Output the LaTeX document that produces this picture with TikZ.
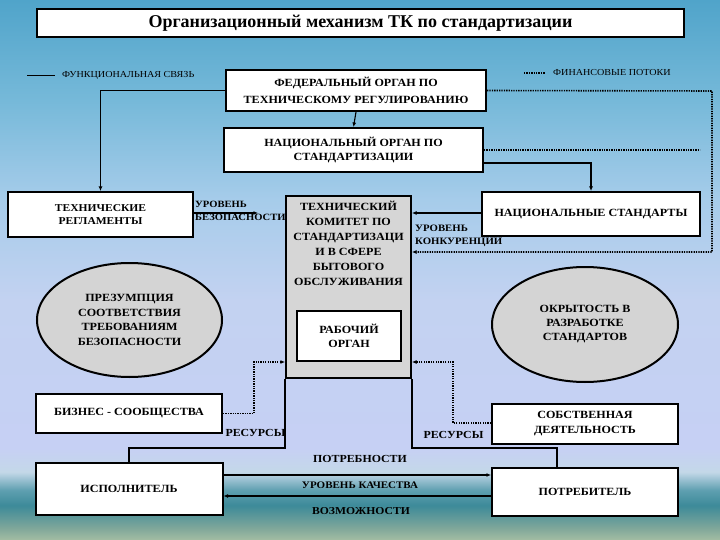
\documentclass[tikz,border=0pt]{standalone}
\usepackage{fontspec}
\setmainfont{Liberation Serif}
\newfontfamily\wfont[FakeStretch=1.1]{Liberation Serif}
\usetikzlibrary{shapes.geometric,arrows.meta,calc}
\definecolor{bgA}{HTML}{A3BDA3}
\definecolor{bgB}{HTML}{7FA79A}
\definecolor{bgC}{HTML}{3D8A99}
\definecolor{bgD}{HTML}{5E9FB0}
\definecolor{bgE}{HTML}{C4D8E8}
\definecolor{bgF}{HTML}{C6D0F4}
\definecolor{bgG}{HTML}{C3D2F1}
\definecolor{bgH}{HTML}{A6CCEA}
\definecolor{bgI}{HTML}{76B9D9}
\definecolor{bgJ}{HTML}{50A4CA}
\definecolor{tkgray}{HTML}{D6D6D6}
\definecolor{ellgray}{HTML}{D4D4D4}
\pgfdeclareverticalshading{bgshade}{100bp}{color(0bp)=(bgA); color(25bp)=(bgA); color(26.1bp)=(bgB); color(28.2bp)=(bgC); color(29.6bp)=(bgD); color(31.3bp)=(bgE); color(33.5bp)=(bgF); color(47.2bp)=(bgG); color(56.5bp)=(bgH); color(65.7bp)=(bgI); color(75bp)=(bgJ); color(100bp)=(bgJ)}
\newcommand{\fb}{\wfont\fontsize{11}{14.5}\selectfont\bfseries}
\newcommand{\fsm}{\wfont\fontsize{9.2}{10}\selectfont}
\newcommand{\ftitle}{\fontsize{18}{20}\selectfont\bfseries}
\newcommand{\flab}[1]{\wfont\fontsize{#1}{12.5}\selectfont\bfseries}
\begin{document}
\begin{tikzpicture}[x=1pt,y=-1pt,
  box/.style={draw, line width=2pt, fill=white, font=\fb, align=center, inner sep=1pt},
  ell/.style={ellipse, draw, line width=2pt, fill=ellgray, font=\fb, align=center, inner sep=0pt},
  conn/.style={line width=1.1pt},
  fin/.style={line width=1.6pt, dash pattern=on 1.3pt off 1.1pt},
  arr/.style={-{Latex[length=4.5pt,width=4pt]}},
  lbl/.style={font=\fb, inner sep=0pt}
]
\useasboundingbox (0,0) rectangle (720,540);
\shade[shading=bgshade] (0,0) rectangle (720,540);

% title
\node[box, line width=1.2pt, minimum width=647pt, minimum height=28pt, font=\ftitle] (title) at (360.5,23) {Организационный механизм ТК по стандартизации};

% legend
\coordinate (lgA) at (27,75);
\coordinate (lgB) at (55,75);
\draw[line width=0.8pt] (lgA) -- (lgB);
\node[anchor=west, font=\fsm, inner sep=0pt] (lgT1) at (62,75) {ФУНКЦИОНАЛЬНАЯ СВЯЗЬ};
\coordinate (lgC) at (524,73);
\coordinate (lgD) at (545,73);
\draw[fin, line width=1.2pt] (lgC) -- (lgD);
\node[anchor=west, font=\fsm, inner sep=0pt] (lgT2) at (553,73) {ФИНАНСОВЫЕ ПОТОКИ};

% main boxes
\node[box, minimum width=260pt, minimum height=41pt] (fed) at (356,90.5) {ФЕДЕРАЛЬНЫЙ ОРГАН ПО\\[2pt]ТЕХНИЧЕСКОМУ РЕГУЛИРОВАНИЮ};
\node[box, minimum width=259pt, minimum height=44pt] (nat) at (353.5,150) {НАЦИОНАЛЬНЫЙ ОРГАН ПО\\СТАНДАРТИЗАЦИИ};
\node[box, minimum width=185pt, minimum height=45pt, font=\wfont\fontsize{10.5}{13}\selectfont\bfseries] (regl) at (100.5,214.5) {ТЕХНИЧЕСКИЕ\\РЕГЛАМЕНТЫ};
\node[box, minimum width=218pt, minimum height=44pt] (natstd) at (591,214) {НАЦИОНАЛЬНЫЕ СТАНДАРТЫ};

\node[box, fill=tkgray, minimum width=125pt, minimum height=182pt] (tk) at (348.5,287) {};
\node[lbl, align=center, font=\wfont\fontsize{11}{15}\selectfont\bfseries] (tktext) at (348.5,243) {ТЕХНИЧЕСКИЙ\\КОМИТЕТ ПО\\СТАНДАРТИЗАЦИ\\И В СФЕРЕ\\БЫТОВОГО\\ОБСЛУЖИВАНИЯ};
\node[box, minimum width=104pt, minimum height=50pt, font=\wfont\fontsize{11}{13.5}\selectfont\bfseries] (rab) at (349,336) {РАБОЧИЙ\\ОРГАН};

\node[ell, minimum width=185pt, minimum height=114pt] (ellL) at (129.5,320) {ПРЕЗУМПЦИЯ\\СООТВЕТСТВИЯ\\ТРЕБОВАНИЯМ\\БЕЗОПАСНОСТИ};
\node[ell, minimum width=186pt, minimum height=115pt, font=\wfont\fontsize{11}{14}\selectfont\bfseries] (ellR) at (585,324.5) {ОКРЫТОСТЬ В\\РАЗРАБОТКЕ\\СТАНДАРТОВ};

\node[box, minimum width=186pt, minimum height=39pt] (biz) at (129,413.5) {БИЗНЕС - СООБЩЕСТВА};
\node[box, minimum width=186pt, minimum height=40pt] (own) at (585,423.5) {СОБСТВЕННАЯ\\ДЕЯТЕЛЬНОСТЬ};
\node[box, minimum width=187pt, minimum height=52pt] (isp) at (129,489) {ИСПОЛНИТЕЛЬ};
\node[box, minimum width=186pt, minimum height=48pt] (potr) at (585,492) {ПОТРЕБИТЕЛЬ};

% helper coordinates
\coordinate (yA) at (0,163);
\coordinate (yB) at (0,252);
\coordinate (yC) at (0,362);
\coordinate (yD) at (0,448);
\coordinate (yE) at (0,475);
\coordinate (yF) at (0,496);
\coordinate (yG) at (0,423);
\coordinate (yH) at (0,213);
\coordinate (xR) at (712,91);
\coordinate (natEnd) at (700,150);
\coordinate (reglEnd) at (258,213);
\coordinate (bizX) at (254,0);
\coordinate (ownX) at (453,0);
\coordinate (potrX) at (557,0);

% functional links
\draw[conn, arr] (fed.west) -| (regl.north);
\draw[conn, arr] (fed.south) -- (nat.north);
\draw[conn, arr] (nat.east |- yA) -| (natstd.north);
\draw[conn, arr] (natstd.west |- yH) -- (tk.east |- yH);
\draw[conn, arr] (regl.east |- yH) -- (reglEnd);
\draw[conn] (tk.south west) -- (tk.south west |- yD) -| (isp.north);
\draw[conn] (tk.south east) -- (tk.south east |- yD) -| (potrX |- potr.north);
\draw[conn, arr] (isp.east |- yE) -- (potr.west |- yE);
\draw[conn, arr] (potr.west |- yF) -- (isp.east |- yF);

% financial flows
\draw[fin, arr] (fed.east) -- (xR) |- (tk.east |- yB);
\draw[fin] (nat.east) -- (natEnd);
\draw[fin, arr] (biz.east) -- (bizX |- biz.east) |- (tk.west |- yC);
\draw[fin, arr] (own.west |- yG) -- (ownX |- yG) |- (tk.east |- yC);

% labels
\node[lbl, anchor=north west, align=left, font=\flab{9.6}] (lvlS) at (195,201) {УРОВЕНЬ\\БЕЗОПАСНОСТИ};
\node[lbl, anchor=north west, align=left, font=\flab{9.8}] (lvlK) at (415,225) {УРОВЕНЬ\\КОНКУРЕНЦИИ};
\node[lbl, font=\flab{10.8}] (resL) at (255.5,433) {РЕСУРСЫ};
\node[lbl, font=\flab{10.8}] (resR) at (453.5,435) {РЕСУРСЫ};
\node[lbl, font=\flab{10.8}] (needs) at (360,459) {ПОТРЕБНОСТИ};
\node[lbl, font=\flab{10}] (qual) at (360,485) {УРОВЕНЬ КАЧЕСТВА};
\node[lbl, font=\flab{10.6}] (poss) at (361,511) {ВОЗМОЖНОСТИ};
\end{tikzpicture}
\end{document}
